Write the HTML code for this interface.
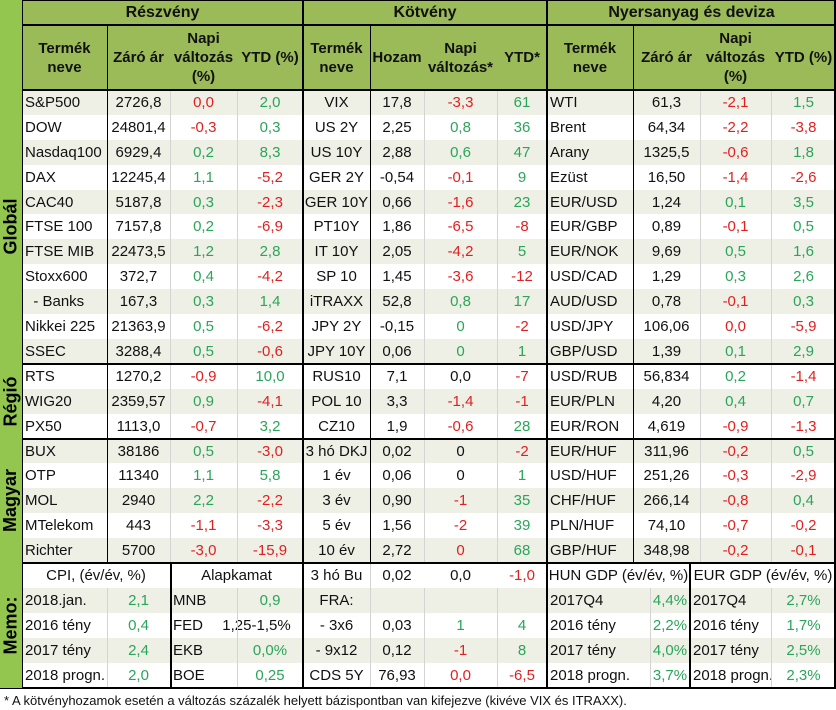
<!DOCTYPE html>
<html><head><meta charset="utf-8"><style>
body{margin:0;width:836px;height:710px;background:#fff;font-family:"Liberation Sans",Arial,sans-serif;position:relative;overflow:hidden}
.c{position:absolute;box-sizing:border-box;display:flex;align-items:center;justify-content:center;font-size:15px;white-space:nowrap;color:#111}
.l{justify-content:flex-start;padding-left:3px}
.r{color:#e02020}.g{color:#2aa55a}.k{color:#111}
.hd{background:#9bbb59;font-weight:bold;text-align:center;line-height:19px}
.ln{position:absolute;background:#000}
.gl{position:absolute;background:#d4d4d4}
.side{position:absolute;left:0;width:22px;background:#92c64f;display:flex;align-items:center;justify-content:center}
.side span{transform:rotate(-90deg);font-weight:bold;font-size:18px;white-space:nowrap}
</style></head><body>
<div id="t"></div>
<div class="c l" style="left:0;top:690px;width:836px;height:20px;font-size:13px;padding-left:4px">* A kötvényhozamok esetén a változás százalék helyett bázispontban van kifejezve (kivéve VIX és ITRAXX).</div>
<script>
const stocks=[["S&P500","2726,8","0,0r","2,0g"],["DOW","24801,4","-0,3r","0,3g"],["Nasdaq100","6929,4","0,2g","8,3g"],["DAX","12245,4","1,1g","-5,2r"],["CAC40","5187,8","0,3g","-2,3r"],["FTSE 100","7157,8","0,2g","-6,9r"],["FTSE MIB","22473,5","1,2g","2,8g"],["Stoxx600","372,7","0,4g","-4,2r"],["  - Banks","167,3","0,3g","1,4g"],["Nikkei 225","21363,9","0,5g","-6,2r"],["SSEC","3288,4","0,5g","-0,6r"],["RTS","1270,2","-0,9r","10,0g"],["WIG20","2359,57","0,9g","-4,1r"],["PX50","1113,0","-0,7r","3,2g"],["BUX","38186","0,5g","-3,0r"],["OTP","11340","1,1g","5,8g"],["MOL","2940","2,2g","-2,2r"],["MTelekom","443","-1,1r","-3,3r"],["Richter","5700","-3,0r","-15,9r"]];
const bonds=[["VIX","17,8","-3,3r","61g"],["US 2Y","2,25","0,8g","36g"],["US 10Y","2,88","0,6g","47g"],["GER 2Y","-0,54","-0,1r","9g"],["GER 10Y","0,66","-1,6r","23g"],["PT10Y","1,86","-6,5r","-8r"],["IT 10Y","2,05","-4,2r","5g"],["SP 10","1,45","-3,6r","-12r"],["iTRAXX","52,8","0,8g","17g"],["JPY 2Y","-0,15","0g","-2r"],["JPY 10Y","0,06","0g","1g"],["RUS10","7,1","0,0k","-7r"],["POL 10","3,3","-1,4r","-1r"],["CZ10","1,9","-0,6r","28g"],["3 hó DKJ","0,02","0k","-2r"],["1 év","0,06","0k","1g"],["3 év","0,90","-1r","35g"],["5 év","1,56","-2r","39g"],["10 év","2,72","0r","68g"]];
const comm=[["WTI","61,3","-2,1r","1,5g"],["Brent","64,34","-2,2r","-3,8r"],["Arany","1325,5","-0,6r","1,8g"],["Ezüst","16,50","-1,4r","-2,6r"],["EUR/USD","1,24","0,1g","3,5g"],["EUR/GBP","0,89","-0,1r","0,5g"],["EUR/NOK","9,69","0,5g","1,6g"],["USD/CAD","1,29","0,3g","2,6g"],["AUD/USD","0,78","-0,1r","0,3g"],["USD/JPY","106,06","0,0r","-5,9r"],["GBP/USD","1,39","0,1g","2,9g"],["USD/RUB","56,834","0,2g","-1,4r"],["EUR/PLN","4,20","0,4g","0,7g"],["EUR/RON","4,619","-0,9r","-1,3r"],["EUR/HUF","311,96","-0,2r","0,5g"],["USD/HUF","251,26","-0,3r","-2,9r"],["CHF/HUF","266,14","-0,8r","0,4g"],["PLN/HUF","74,10","-0,7r","-0,2r"],["GBP/HUF","348,98","-0,2r","-0,1r"]];
const cpi=[["2018.jan.","2,1g"],["2016 tény","0,4g"],["2017 tény","2,4g"],["2018 progn.","2,0g"]];
const rates=[["MNB","0,9g"],["FED","1,25-1,5%k"],["EKB","0,0%g"],["BOE","0,25g"]];
const memoBonds=[["3 hó Bu","0,02","0,0k","-1,0r"],["FRA:","","",""],["- 3x6","0,03","1g","4g"],["- 9x12","0,12","-1r","8g"],["CDS 5Y","76,93","0,0r","-6,5r"]];
const hun=[["2017Q4","4,4%g"],["2016 tény","2,2%g"],["2017 tény","4,0%g"],["2018 progn.","3,7%g"]];
const eur=[["2017Q4","2,7%g"],["2016 tény","1,7%g"],["2017 tény","2,5%g"],["2018 progn.","2,3%g"]];
const T=document.getElementById('t');
const RH=24.9,Y0=90;
function cell(x,y,w,h,txt,cls,name){const d=document.createElement('div');d.className='c '+(cls||'');


d.style.cssText=`left:${x}px;top:${y}px;width:${w}px;height:${h}px`;d.innerHTML=txt;T.appendChild(d);return d;}
function val(s){const m=s.match(/^(.*?)([rgk])$/);return m?[m[1],m[2]]:[s,'k'];}
function line(x,y,w,h,cls,name){const d=document.createElement('div');d.className=cls;


d.style.cssText=`left:${x}px;top:${y}px;width:${w}px;height:${h}px`;T.appendChild(d);}
for(let i=0;i<24;i++){if(i%2==0){const d=document.createElement('div');d.style.cssText=`position:absolute;left:22px;width:814px;top:${Y0+i*RH}px;height:${RH}px;background:#eeefe5`;


T.appendChild(d);}}
cell(22,0,814,25,'','hd','header-band');
cell(22,0,281,25,'Részvény','hd','header-reszveny').style.fontSize='16px';
cell(303,0,244,25,'Kötvény','hd','header-kotveny').style.fontSize='16px';
cell(547,0,289,25,'Nyersanyag és deviza','hd','header-nyersanyag').style.fontSize='16px';
const hx=[[22,85,'Termék<br>neve'],[107,63,'Záró ár'],[170,67,'Napi<br>változás<br>(%)'],[237,66,'YTD (%)'],[303,67,'Termék<br>neve'],[370,54,'Hozam'],[424,73,'Napi<br>változás*'],[497,50,'YTD*'],[547,86,'Termék<br>neve'],[633,67,'Záró ár'],[700,71,'Napi<br>változás<br>(%)'],[771,65,'YTD (%)']];
hx.forEach(h=>cell(h[0],25,h[1],65,h[2],'hd','column-header'));
const sx=[22,107,170,237,303],bx=[303,370,424,497,547],cx=[547,633,700,771,836];
function rows(data,xs,leftName,pre){data.forEach((r,i)=>{const y=Y0+i*RH;
for(let j=0;j<4;j++){const w=xs[j+1]-xs[j];
if(j==0){cell(xs[j],y,w,RH,r[0].replace(/^ +/,m=>'&nbsp;'.repeat(m.length)),(leftName?'l ':'')+'k',pre+'-name');}
else{const [t,c]=val(r[j]);cell(xs[j],y,w,RH,t,c,pre+(j==1?'-value':j==2?'-daily-change':'-ytd'));}}});}
rows(stocks,sx,true,'stock');rows(bonds,bx,false,'bond');rows(comm,cx,true,'commodity');
const my=Y0+19*RH;
cell(22,my,148,RH,'CPI, (év/év, %)','','cpi-title');
cell(170,my,133,RH,'Alapkamat','','rate-title');
cell(547,my,143,RH,'HUN GDP (év/év, %)','','hun-gdp-title');
cell(690,my,146,RH,'EUR GDP (év/év, %)','','eur-gdp-title');
cpi.forEach((r,i)=>{const y=my+(i+1)*RH;const[v,c]=val(r[1]);cell(22,y,85,RH,r[0],'l','cpi-label');cell(107,y,63,RH,v,c,'cpi-value');});
rates.forEach((r,i)=>{const y=my+(i+1)*RH;const[v,c]=val(r[1]);cell(170,y,50,RH,r[0],'l','rate-label');if(r[0]=='FED')cell(210,y,93,RH,v,c,'rate-value');else cell(237,y,66,RH,v,c,'rate-value');});
memoBonds.forEach((r,i)=>{const y=my+i*RH;for(let j=0;j<4;j++){if(j==0){cell(bx[0],y,bx[1]-bx[0],RH,r[0],'k','memo-bond-name');}else{const[t,c]=val(r[j]);cell(bx[j],y,bx[j+1]-bx[j],RH,t,c,'memo-bond-value');}}});
hun.forEach((r,i)=>{const y=my+(i+1)*RH;const[v,c]=val(r[1]);cell(547,y,103,RH,r[0],'l','hun-gdp-label');cell(650,y,40,RH,v,c,'hun-gdp-value');});
eur.forEach((r,i)=>{const y=my+(i+1)*RH;const[v,c]=val(r[1]);cell(690,y,81,RH,r[0],'l','eur-gdp-label');cell(771,y,65,RH,v,c,'eur-gdp-value');});
const gTop=Y0,gBot=Y0+24*RH;
[170,237,424,497,700,771].forEach(x=>line(x,gTop,1,my-gTop,'gl','grid-line'));
[107,424,497,771,650].forEach(x=>line(x,my+RH,1,4*RH,'gl','grid-line'));
line(237,my+RH,1,4*RH,'gl','grid-line');line(370,my,1,5*RH,'gl','grid-line');
[107,633,370].forEach(x=>line(x,25,1,my-25,'ln','column-border'));
[22,303,547].forEach(x=>line(x-1,0,2,gBot,'ln','section-border'));
line(834,0,2,gBot,'ln','section-border');
line(170,my,2,5*RH,'ln','memo-border');line(689,my,2,5*RH,'ln','memo-border');
[24,89].forEach(y=>line(22,y,814,2,'ln','header-border'));
[Y0+11*RH,Y0+14*RH,my].forEach(y=>line(0,y-1,836,2,'ln','group-border'));
line(0,gBot-1,836,2,'ln','table-bottom');line(0,0,836,1,'ln','table-top');
[['Globál',Y0,11*RH],['Régió',Y0+11*RH,3*RH],['Magyar',Y0+14*RH,5*RH],['Memo:',my,5*RH]].forEach(s=>{const d=document.createElement('div');d.className='side';


d.style.top=s[1]+'px';d.style.height=s[2]+'px';d.innerHTML='<span>'+s[0]+'</span>';T.appendChild(d);});
const hs=document.createElement('div');hs.className='side';hs.style.top='0px';hs.style.height=Y0+'px';


T.appendChild(hs);
</script>
</body></html>
